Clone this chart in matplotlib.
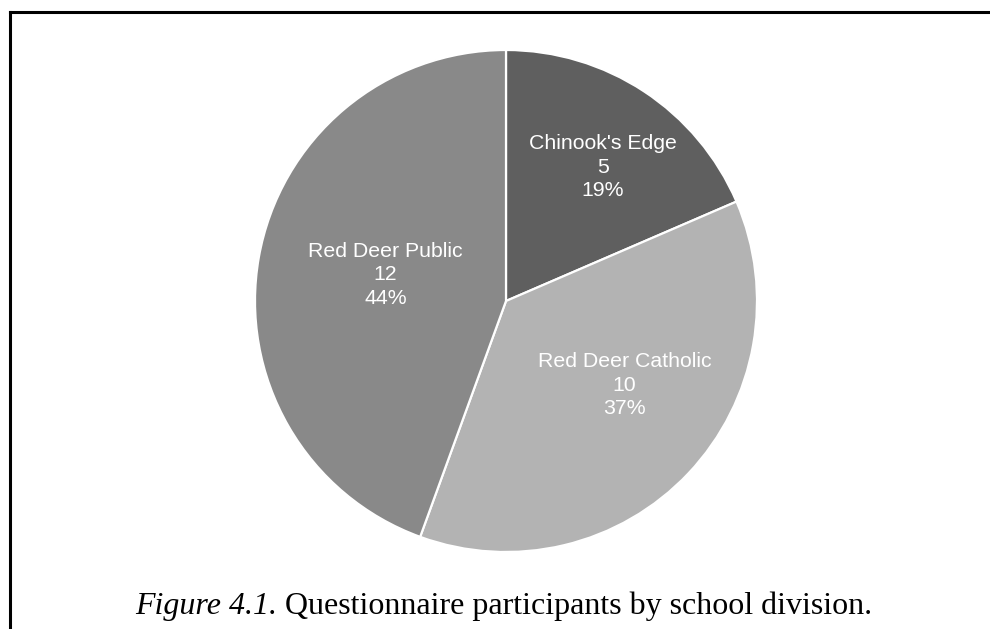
import matplotlib
matplotlib.use('Agg')
import matplotlib.pyplot as plt
from matplotlib.lines import Line2D

# School divisions and number of questionnaire participants
divisions = ["Chinook's Edge", "Red Deer Catholic", "Red Deer Public"]
participants = [5, 10, 12]
colors = ['#5f5f5f', '#b3b3b3', '#898989']

# label centres (data coords, radius 1 pie)
label_pos = [(0.385, 0.532), (0.472, -0.335), (-0.480, 0.105)]

fig = plt.figure(figsize=(9.9, 6.29), dpi=100)
fig.patch.set_facecolor('white')

ax = fig.add_axes([255 / 990, 77 / 629, 502 / 990, 502 / 629])
wedges, _ = ax.pie(participants, colors=colors, startangle=90, counterclock=False,
                   radius=1, wedgeprops=dict(edgecolor='white', linewidth=1.6))
ax.set_xlim(-1, 1)
ax.set_ylim(-1, 1)
ax.axis('off')

total = sum(participants)
for name, n, (lx, ly) in zip(divisions, participants, label_pos):
    pct = round(100 * n / total)
    ax.text(lx, ly, f"{name}\n{n}\n{pct}%", ha='center', va='center', color='white',
            fontsize=15.3, family='Liberation Sans', linespacing=1.3)

# frame around the figure (top and left only, as in the source page)
fig.add_artist(Line2D([9.7 / 990, 1.0], [1 - 11.5 / 629, 1 - 11.5 / 629],
                      transform=fig.transFigure, color='black', linewidth=2.2))
fig.add_artist(Line2D([9.7 / 990, 9.7 / 990], [1 - 11.5 / 629, 0.0],
                      transform=fig.transFigure, color='black', linewidth=2.2))

# caption with italic figure number
cap_y = 1 - 614 / 629
t1 = fig.text(0, cap_y, "Figure 4.1.", family='Liberation Serif', style='italic',
              fontsize=23, va='baseline')
t2 = fig.text(0, cap_y, " Questionnaire participants by school division.",
              family='Liberation Serif', fontsize=23, va='baseline')
r = fig.canvas.get_renderer()
w1 = t1.get_window_extent(r).width
w2 = t2.get_window_extent(r).width
start = 504 - (w1 + w2) / 2
t1.set_x(start / 990)
t2.set_x((start + w1) / 990)

fig.savefig('out.png', dpi=100)
